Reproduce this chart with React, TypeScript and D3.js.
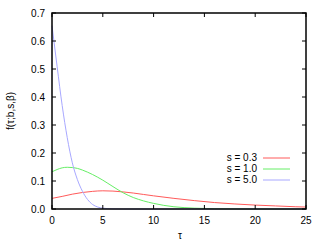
import React from "react";
import * as d3 from "d3";

const xTicks = [0, 5, 10, 15, 20, 25];
const yTicks = [0, 0.1, 0.2, 0.3, 0.4, 0.5, 0.6, 0.7];

const tauS03 = [0, 1, 2, 3, 4, 5, 6, 7, 8, 9, 10, 12, 14, 16, 18, 20, 22, 24, 25];
const valS03 = [0.038, 0.045, 0.053, 0.059, 0.063, 0.065, 0.064, 0.061, 0.057, 0.052, 0.047, 0.038, 0.03, 0.023, 0.018, 0.014, 0.011, 0.008, 0.007];

const tauS10 = [0, 0.5, 1, 1.5, 2, 2.5, 3, 4, 5, 6, 7, 8, 9, 10, 11, 12, 13, 14, 15, 16, 18, 20, 25];
const valS10 = [0.133, 0.141, 0.147, 0.149, 0.148, 0.145, 0.139, 0.123, 0.103, 0.08, 0.058, 0.041, 0.029, 0.02, 0.013, 0.008, 0.005, 0.003, 0.002, 0.001, 0.0003, 0, 0];

const tauS50 = [0, 0.5, 1, 1.5, 2, 2.5, 3, 3.5, 4, 4.5, 5, 6, 7, 25];
const valS50 = [0.655, 0.51, 0.37, 0.255, 0.165, 0.105, 0.063, 0.034, 0.016, 0.007, 0.003, 0.0005, 0, 0];

const seriesNames = ["s = 0.3", "s = 1.0", "s = 5.0"];
const seriesColors = ["#ff5a5a", "#66ee66", "#a8a8ff"];

export default function App() {
  const W = 325, H = 243;
  const left = 52, right = 306, top = 13, bottom = 209;
  const x = d3.scaleLinear().domain([0, 25]).range([left, right]);
  const y = d3.scaleLinear().domain([0, 0.7]).range([bottom, top]);
  const line = d3
    .line<[number, number]>()
    .x((d) => x(d[0]))
    .y((d) => y(d[1]))
    .curve(d3.curveMonotoneX);
  const series = [
    tauS03.map((t, i) => [t, valS03[i]] as [number, number]),
    tauS10.map((t, i) => [t, valS10[i]] as [number, number]),
    tauS50.map((t, i) => [t, valS50[i]] as [number, number]),
  ];
  const font = "'Liberation Sans', Arial, sans-serif";
  const tl = 4;
  return (
    <svg width={W} height={H} style={{ position: "absolute", left: 0, top: 0, background: "#fff" }} fontFamily={font}>
      {series.map((s, i) => (
        <path key={i} d={line(s) || ""} fill="none" stroke={seriesColors[i]} strokeWidth={1} />
      ))}
      <rect x={left} y={top} width={right - left} height={bottom - top} fill="none" stroke="#000" strokeWidth={1.5} />
      {xTicks.map((t) => (
        <g key={"x" + t}>
          <line x1={x(t)} x2={x(t)} y1={bottom} y2={bottom - tl} stroke="#000" />
          <line x1={x(t)} x2={x(t)} y1={top} y2={top + tl} stroke="#000" />
          <text x={x(t)} y={224} fontSize={10} textAnchor="middle" fill="#000">{t}</text>
        </g>
      ))}
      {yTicks.map((t) => (
        <g key={"y" + t}>
          <line x1={left} x2={left + tl} y1={y(t)} y2={y(t)} stroke="#000" />
          <line x1={right} x2={right - tl} y1={y(t)} y2={y(t)} stroke="#000" />
          <text x={45} y={y(t) + 3.5} fontSize={10} textAnchor="end" fill="#000">{t.toFixed(1)}</text>
        </g>
      ))}
      <text x={180} y={239} fontSize={10} textAnchor="middle">τ</text>
      <text transform={`translate(14,${(top + bottom) / 2}) rotate(-90)`} fontSize={10} textAnchor="middle">f(τ;b,s,β)</text>
      {seriesNames.map((n, i) => (
        <g key={n}>
          <text x={257} y={161 + i * 11} fontSize={10} textAnchor="end">{n}</text>
          <line x1={263} x2={290} y1={158 + i * 11} y2={158 + i * 11} stroke={seriesColors[i]} strokeWidth={1} />
        </g>
      ))}
    </svg>
  );
}
